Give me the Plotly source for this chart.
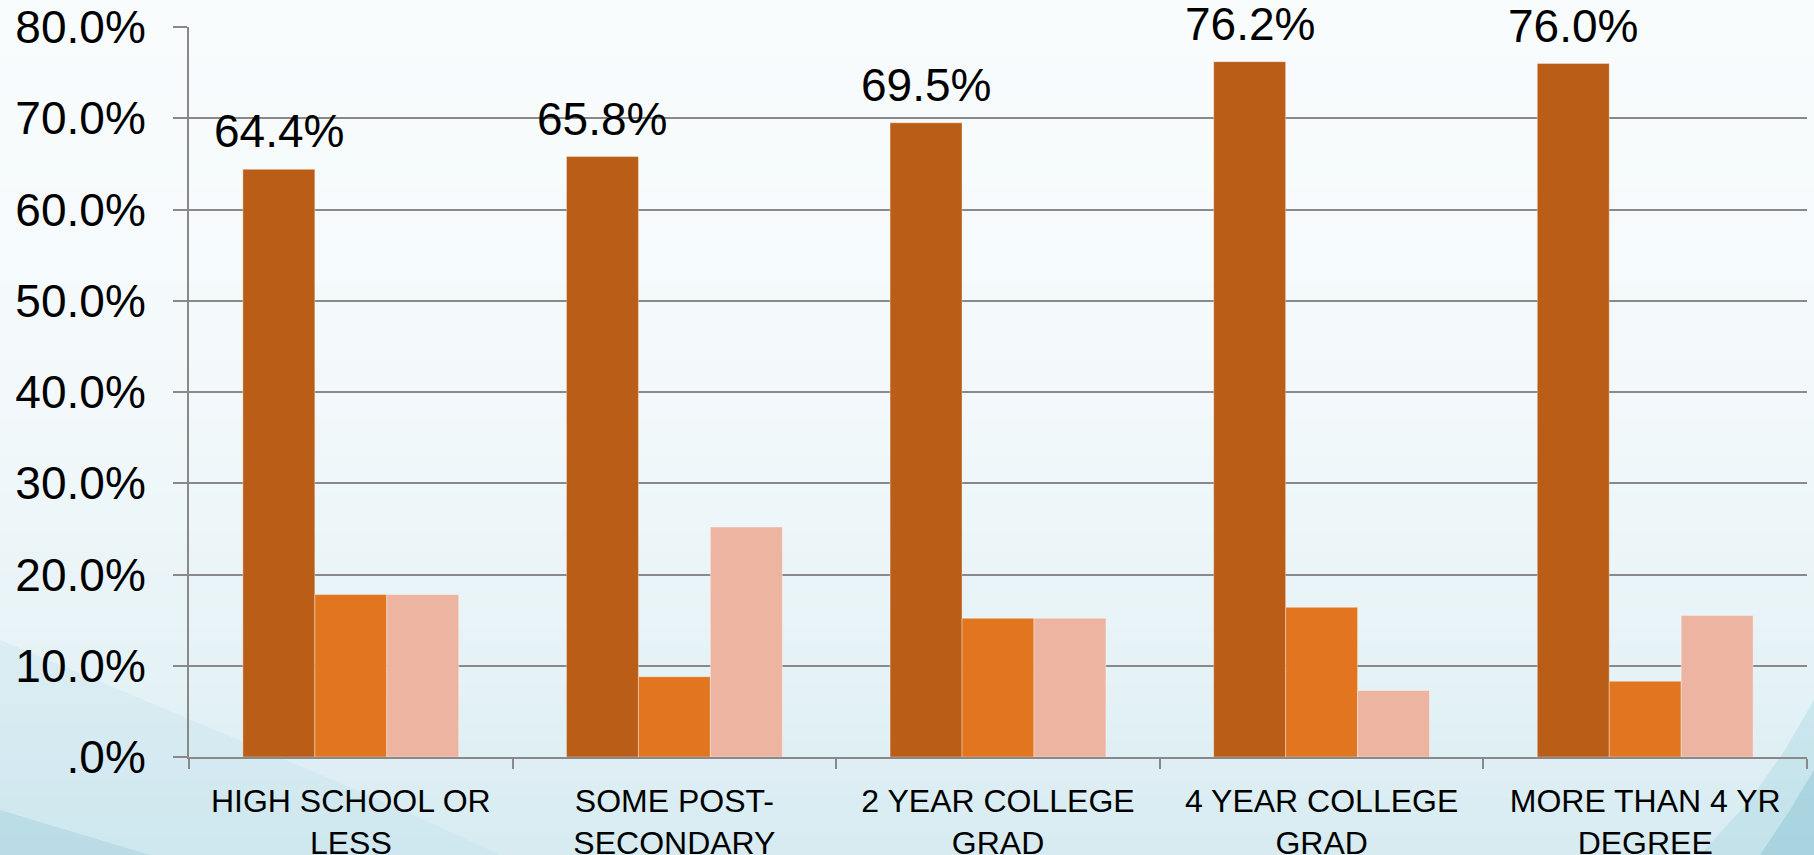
import plotly.graph_objects as go

# education level groups along the x axis
categories = [
    "HIGH SCHOOL OR<br>LESS",
    "SOME POST-<br>SECONDARY",
    "2 YEAR COLLEGE<br>GRAD",
    "4 YEAR COLLEGE<br>GRAD",
    "MORE THAN 4 YR<br>DEGREE",
]
series_1 = [64.4, 65.8, 69.5, 76.2, 76.0]
series_2 = [17.8, 8.8, 15.2, 16.4, 8.3]
series_3 = [17.8, 25.2, 15.2, 7.3, 15.5]

tick_vals = [0, 10, 20, 30, 40, 50, 60, 70, 80]
tick_text = [".0%", "10.0%", "20.0%", "30.0%", "40.0%", "50.0%", "60.0%", "70.0%", "80.0%"]

W, H = 1814, 855
L, R, T, B = 189, 1807, 27, 757
FONT = "Liberation Sans, Arial, sans-serif"
GRID = "#898989"


def px_x(x):
    return (x - L) / (R - L)


def px_y(y):
    return (B - y) / (B - T)


def band_color(f):
    stops = [(0.0, (249, 252, 253)), (0.45, (243, 249, 251)),
             (0.8, (229, 242, 246)), (1.0, (214, 235, 241))]
    for (f0, c0), (f1, c1) in zip(stops[:-1], stops[1:]):
        if f0 <= f <= f1:
            t = (f - f0) / (f1 - f0)
            c = [round(a + (b - a) * t) for a, b in zip(c0, c1)]
            return "rgb(%d,%d,%d)" % tuple(c)
    return "rgb(214,235,241)"


shapes = []
n = 45
for i in range(n):
    y0 = H * i / n
    y1 = H * (i + 1) / n + 1
    shapes.append(dict(type="rect", xref="paper", yref="paper", layer="below",
                       x0=px_x(0), x1=px_x(W), y0=px_y(y1), y1=px_y(y0),
                       fillcolor=band_color((i + 0.5) / n), line=dict(width=0)))


def path(points):
    s = "M %f,%f" % (px_x(points[0][0]), px_y(points[0][1]))
    for x, y in points[1:]:
        s += " L %f,%f" % (px_x(x), px_y(y))
    return s + " Z"


# soft swooshes in the bottom corners
swooshes = [
    ([(0, 640), (120, 690), (250, 745), (380, 800), (500, 855), (0, 855)], "rgba(185,220,230,0.25)"),
    ([(0, 810), (50, 825), (100, 840), (150, 855), (0, 855)], "rgba(150,200,215,0.35)"),
    ([(W, 700), (1785, 750), (1750, 800), (1700, 855), (W, 855)], "rgba(150,205,218,0.3)"),
    ([(W, 770), (1790, 810), (1760, 855), (W, 855)], "rgba(120,185,203,0.35)"),
]
for pts, col in swooshes:
    shapes.append(dict(type="path", xref="paper", yref="paper", layer="below",
                       path=path(pts), fillcolor=col, line=dict(width=0)))

bar_line = dict(color="rgba(255,255,255,0.35)", width=1)
fig = go.Figure()
fig.add_trace(go.Bar(x=categories, y=series_1, name="Series 1",
                     marker=dict(color="#BA5E17", line=bar_line)))
fig.add_trace(go.Bar(x=categories, y=series_2, name="Series 2",
                     marker=dict(color="#E27620", line=bar_line)))
fig.add_trace(go.Bar(x=categories, y=series_3, name="Series 3",
                     marker=dict(color="#EDB5A1", line=bar_line)))

# value labels above the first series (shifted left onto the first bar of each group)
for cat, val in zip(categories, series_1):
    fig.add_annotation(x=cat, y=val, text="%.1f%%" % val, showarrow=False,
                       xanchor="center", yanchor="bottom", xshift=-72, yshift=10,
                       font=dict(size=46, color="black", family=FONT))

fig.update_layout(
    width=W, height=H,
    margin=dict(l=L, r=W - R, t=T, b=H - B, autoexpand=False),
    barmode="group", bargap=0.333, bargroupgap=0,
    showlegend=False,
    paper_bgcolor="#F5FAFC", plot_bgcolor="rgba(0,0,0,0)",
    font=dict(family=FONT, color="black"),
    shapes=shapes,
)
fig.update_xaxes(showline=True, linecolor=GRID, linewidth=2, showgrid=False,
                 ticks="outside", tickson="boundaries", ticklen=10, tickwidth=2, tickcolor=GRID,
                 tickfont=dict(size=32, family=FONT), ticklabelstandoff=15)
fig.update_yaxes(range=[0, 80], tickvals=tick_vals, ticktext=tick_text,
                 showline=True, linecolor=GRID, linewidth=2,
                 showgrid=True, gridcolor=GRID, gridwidth=2, zeroline=False,
                 ticks="outside", ticklen=14, tickwidth=2, tickcolor=GRID,
                 tickfont=dict(size=46, family=FONT), ticklabelstandoff=18)

# drop the default page margin so the figure fills the window exactly
fig.write_html("out.html", config={"displayModeBar": False},
               post_script="document.body.style.margin='0';")
